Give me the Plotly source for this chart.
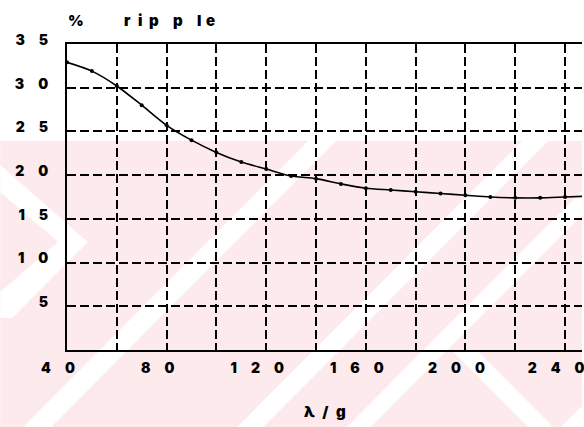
import plotly.graph_objects as go

# Ripple (%) versus lambda/g
lam_g = [40, 50, 60, 70, 80, 90, 100, 110, 120, 130, 140, 150, 160, 170,
         180, 190, 200, 210, 220, 230, 240, 250]
ripple = [32.9, 31.9, 30.2, 28.0, 25.7, 24.0, 22.6, 21.5, 20.7, 19.9, 19.6,
          19.0, 18.5, 18.3, 18.1, 17.9, 17.7, 17.5, 17.4, 17.4, 17.5, 17.6]

x_ticks = [40, 60, 80, 100, 120, 140, 160, 180, 200, 220, 240]
x_labels = ["4\u20030", "", "8\u20030", "", "1\u20032\u20030", "",
            "1\u20036\u20030", "", "2\u20030\u20030", "", "2\u20034\u20030"]
y_ticks = [0, 5, 10, 15, 20, 25, 30, 35]
y_labels = ["", "5", "1\u20030", "1\u20035", "2\u20030", "2\u20035",
            "3\u20030", "3\u20035"]

# spaced-out letters of the y-axis caption
caption = ["r", "i", "p", "p", "l", "e"]
caption_x = [122, 136, 147, 171, 195, 205]

W, H = 584, 427
ML, MR, MT, MB = 67, 0, 44, 77
PW, PH = W - ML - MR, H - MT - MB


def px(xp, yp):
    """Pixel position -> paper coordinates."""
    return (xp - ML) / PW, (H - MB - yp) / PH


def poly(points, color):
    pts = [px(a, b) for a, b in points]
    d = "M " + " L ".join(f"{a:.4f},{b:.4f}" for a, b in pts) + " Z"
    return dict(type="path", xref="paper", yref="paper", path=d,
                fillcolor=color, line=dict(width=0), layer="below")


PINK = "#fdeaed"
TOP = 141
shapes = [poly([(0, TOP), (W, TOP), (W, H), (0, H)], PINK)]
# light diagonal bands of the background pattern
for c, w in [(450, 28), (665, 26), (775, 24), (990, 26)]:
    shapes.append(poly([(c - TOP, TOP), (c + w - TOP, TOP),
                        (c + w - H, H), (c - H, H)], "white"))
shapes.append(poly([(0, 165), (88, 242), (12, 318), (0, 318), (0, 292),
                    (58, 242), (0, 192)], "white"))
shapes.append(poly([(455, 352), (480, 352), (555, 427), (530, 427)], "white"))

fig = go.Figure()
fig.add_trace(go.Scatter(
    x=lam_g, y=ripple, mode="lines+markers",
    line=dict(color="black", width=1.6, shape="spline", smoothing=0.8),
    marker=dict(color="black", size=4),
    hoverinfo="skip", showlegend=False,
))

tick_font = dict(family="Inter", size=14, color="black", weight=900)
title_font = dict(family="Inter", size=15, color="black", weight=900)
grid = dict(showgrid=True, gridcolor="black", gridwidth=1.5,
            griddash="9px,4px", zeroline=False, ticks="",
            showline=True, linecolor="black", linewidth=2,
            tickfont=tick_font, ticklabeloverflow="allow")

annotations = [
    dict(text="%", x=px(66, 20)[0], y=px(66, 20)[1], xref="paper",
         yref="paper", xanchor="left", yanchor="middle",
         showarrow=False, font=title_font),
    dict(text="\u03bb\u2002/\u2002g", x=px(326, 411)[0], y=px(326, 411)[1],
         xref="paper", yref="paper", xanchor="center", yanchor="middle",
         showarrow=False, font=title_font),
]
for ch, cx in zip(caption, caption_x):
    annotations.append(dict(text=ch, x=px(cx, 20)[0], y=px(cx, 20)[1],
                            xref="paper", yref="paper", xanchor="left",
                            yanchor="middle", showarrow=False,
                            font=title_font))

fig.update_layout(
    width=W, height=H,
    margin=dict(l=ML, r=MR, t=MT, b=MB, pad=0),
    paper_bgcolor="white", plot_bgcolor="rgba(0,0,0,0)",
    shapes=shapes,
    xaxis=dict(range=[40, 246.8], tickmode="array", tickvals=x_ticks,
               ticktext=x_labels, mirror=True, ticklabelshift=-9,
               ticklabelstandoff=4, **grid),
    yaxis=dict(range=[0, 35], tickmode="array", tickvals=y_ticks,
               ticktext=y_labels, ticklabelshift=-4, ticklabelstandoff=14,
               **grid),
    annotations=annotations,
)

fig.write_html("out.html")
